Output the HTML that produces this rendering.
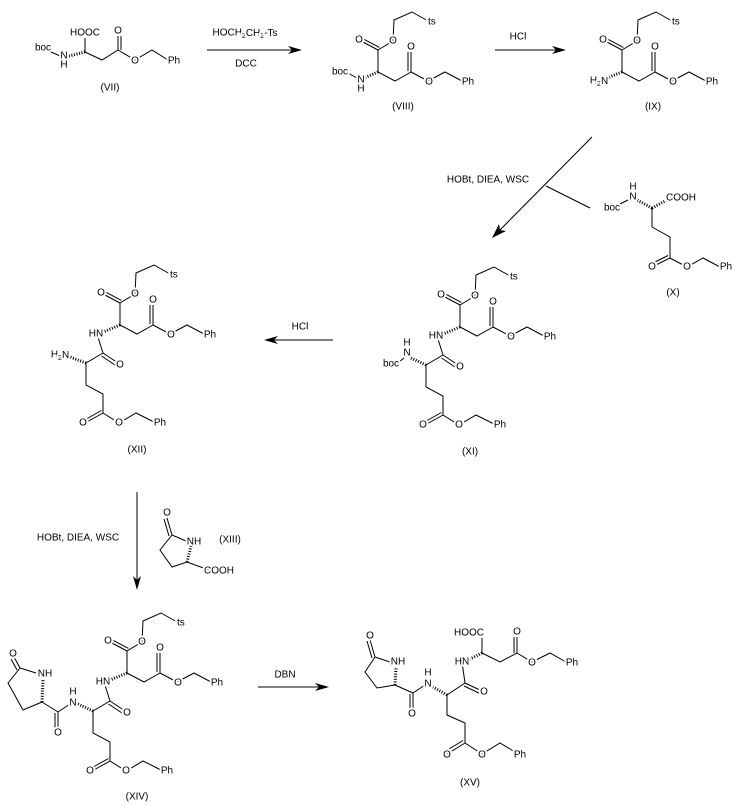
<!DOCTYPE html>
<html><head><meta charset="utf-8"><style>
html,body{margin:0;padding:0;background:#fff;}
svg{display:block;}
text{font-family:"Liberation Sans",sans-serif;font-size:10px;fill:#000;text-anchor:middle;dominant-baseline:central;paint-order:stroke;stroke:#fff;stroke-width:4px;stroke-linejoin:round;}
.b{stroke:#000;stroke-width:1;fill:none;}
.h{stroke:#000;stroke-width:3;stroke-dasharray:1 1.6;fill:none;}
.l{stroke:none;}
</style></head><body>
<svg width="736" height="806" viewBox="0 0 736 806" xmlns="http://www.w3.org/2000/svg">
<defs>
<g id="asp">
  <path class="b" d="M0,0 L0,-22 M0,-22 L-17,-31 M1.4,-24.6 L-15.6,-33.6 M0,-22 L15,-31 L16,-52 L34,-60 L50,-51 M0,0 L17,9 L33,0 L33,-20 M30,-1 L30,-20 M33,0 L50,9 L67,0 L84,9"/>
  <text x="-19" y="-32">O</text><text x="15" y="-31">O</text><text x="54" y="-50" style="text-anchor:start" dx="-4">ts</text>
  <text x="33" y="-25">O</text><text x="51" y="10">O</text><text x="90" y="10">Ph</text>
</g>
<g id="dip">
  <use href="#asp"/>
  <path class="h" d="M0,0 L-17,7"/>
  <path class="b" d="M-23,9 L-17,28 M-17,28 L-2,38 M-18.5,31 L-3.5,41 M-17,28 L-34,38 L-34,60 L-17,69 L-17,88 L-35,98 M-18.5,85.5 L-36.5,95.5 M-17,88 L-1,98 L16,88 L34,97"/>
  <text x="-24" y="9">HN</text><text x="0" y="40">O</text>
  <text x="-37" y="98">O</text><text x="-1" y="98">O</text><text x="40" y="98">Ph</text>
</g>
</defs>

<!-- VII -->
<path class="b" d="M49,51 L60,56 M85,52 L85,38 M85,52 L102,60 L118,50 L118,36 M121,50 L121,36 M118,50 L135,60 L152,50 L168,60"/>
<path class="h" d="M85,52 L69,56"/>
<text x="85" y="33">HOOC</text><text x="43" y="48">boc</text><text x="64" y="56">N</text><text x="64" y="65">H</text>
<text x="118" y="31">O</text><text x="135" y="61">O</text><text x="174" y="61">Ph</text>
<text x="110" y="88">(VII)</text>

<!-- arrow 1 -->
<path class="b" d="M207,50 L296,50"/><polygon class="l" points="302,50 288,46 292,50 288,54"/>
<text x="245" y="33">HOCH<tspan font-size="7" dy="3">2</tspan><tspan dy="-3">CH</tspan><tspan font-size="7" dy="3">2</tspan><tspan dy="-3">-Ts</tspan></text>
<text x="246" y="64">DCC</text>

<!-- VIII -->
<use href="#asp" x="378" y="72"/>
<path class="h" d="M378,72 L364,78"/><path class="b" d="M348,73 L357,78"/>
<text x="340" y="72">boc</text><text x="361" y="80">N</text><text x="361" y="89">H</text>
<text x="403" y="107">(VIII)</text>

<!-- arrow 2 -->
<path class="b" d="M495,50 L560,50"/><polygon class="l" points="566,50 552,46 556,50 552,54"/>
<text x="518" y="37">HCl</text>

<!-- IX -->
<use href="#asp" x="622" y="72"/>
<path class="h" d="M622,72 L607,78"/>
<text x="599" y="81">H<tspan font-size="7" dy="3">2</tspan><tspan dy="-3">N</tspan></text>
<text x="653" y="107">(IX)</text>

<!-- diagonal arrow -->
<path class="b" d="M592,137 L496,234 M546,186 L590,208"/>
<polygon class="l" points="492,238 499,224 500,230 506,231"/>
<text x="488" y="180">HOBt, DIEA, WSC</text>

<!-- X -->
<path class="b" d="M618,205 L628,200 M652,208 L652,227 L670,237 L670,258 L652,267 M668,255.5 L650,264.5 M670,258 L687,267 L703,258 L720,267"/>
<path class="h" d="M652,208 L637,200 M652,208 L667,200"/>
<text x="633" y="197">N</text><text x="633" y="187">H</text><text x="612" y="208">boc</text>
<text x="681" y="198">COOH</text>
<text x="652" y="267">O</text><text x="687" y="267">O</text><text x="726" y="267">Ph</text>
<text x="673" y="293">(X)</text>

<!-- XI -->
<use href="#dip" x="460" y="327"/>
<path class="h" d="M426,365 L411,358"/><path class="b" d="M399,362 L404,358"/>
<text x="407" y="353">N</text><text x="407" y="343">H</text><text x="391" y="364">boc</text>
<text x="470" y="452">(XI)</text>

<!-- HCl arrow -->
<path class="b" d="M333,340 L270,340"/><polygon class="l" points="264,340 278,336 274,340 278,344"/>
<text x="300" y="327">HCl</text>

<!-- XII -->
<use href="#dip" x="120" y="325"/>
<path class="h" d="M86,363 L70,357"/>
<text x="60" y="355">H<tspan font-size="7" dy="3">2</tspan><tspan dy="-3">N</tspan></text>
<text x="137" y="450">(XII)</text>

<!-- down arrow -->
<path class="b" d="M137,492 L137,583"/><polygon class="l" points="137,590 133,576 137,580 141,576"/>
<text x="78" y="538">HOBt, DIEA, WSC</text>

<!-- XIII -->
<path class="b" d="M172,535 L167,518 M169,536 L164,519 M172,535 L186,541 M172,535 L160,550 L172,567 L187,562 L209,570"/>
<path class="h" d="M187,562 L191,546"/>
<text x="167" y="513">O</text><text x="194" y="542">NH</text><text x="219" y="571">COOH</text>
<text x="230" y="540">(XIII)</text>

<!-- XIV -->
<use href="#dip" x="127" y="673"/>
<path class="h" d="M93,711 L78,704"/>
<path class="b" d="M73,702 L58,712 L58,730 M55,713 L55,730 M58,712 L42,702 M20,668 L14,657 M17,670 L11,659 M20,668 L36,673 M20,668 L8,683 L23,710 L42,702"/>
<path class="h" d="M42,702 L43,680"/>
<text x="73" y="703">N</text><text x="73" y="692">H</text><text x="58" y="733">O</text>
<text x="13" y="654">O</text><text x="45" y="674">NH</text>
<text x="137" y="797">(XIV)</text>

<!-- DBN arrow -->
<path class="b" d="M258,687 L323,687"/><polygon class="l" points="329,687 315,683 319,687 315,691"/>
<text x="285" y="675">DBN</text>

<!-- XV -->
<path class="b" d="M482,653 L482,638 M482,653 L500,662 L517,653 L517,637 M514,653 L514,637 M517,653 L532,662 L550,653 L566,662 M462,662 L465,683 M465,683 L482,691 M464,686 L481,694 M465,683 L447,695 L447,715 L465,723 L465,743 L447,754 M463,740.5 L445,751.5 M465,743 L482,754 L500,743 L515,752 M428,683 L413,693 L413,713 M410,694 L410,713 M413,693 L395,685 M375,657 L370,640 M372,658 L367,641 M375,657 L390,662 M375,657 L365,672 L377,688 L395,685"/>
<path class="h" d="M482,653 L468,660 M447,695 L433,687 M395,685 L396,668"/>
<text x="469" y="633">HOOC</text><text x="517" y="632">O</text><text x="532" y="663">O</text><text x="572" y="663">Ph</text>
<text x="462" y="662">HN</text><text x="484" y="692">O</text>
<text x="428" y="684">N</text><text x="428" y="673">H</text><text x="412" y="714">O</text>
<text x="370" y="636">O</text><text x="398" y="662">NH</text>
<text x="447" y="755">O</text><text x="482" y="755">O</text><text x="520" y="755">Ph</text>
<text x="470" y="783">(XV)</text>
</svg>
</body></html>
